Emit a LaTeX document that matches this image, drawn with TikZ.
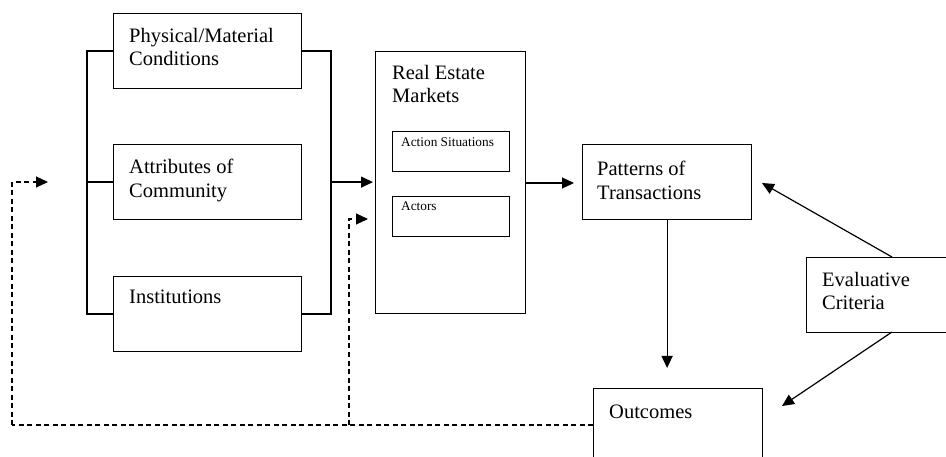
\documentclass[tikz,border=0pt]{standalone}
\usepackage{fontspec}
\setmainfont{Liberation Serif}
\usetikzlibrary{arrows.meta,calc}
\begin{document}
\begin{tikzpicture}[x=1pt,y=-1pt,
  box/.style={draw, line width=1.2pt, anchor=north west, inner sep=0pt},
  txt/.style={anchor=north west, inner sep=0pt, align=left, font=\fontsize{20.5}{23.5}\selectfont},
  stxt/.style={anchor=north west, inner sep=0pt, align=left, font=\fontsize{13.3}{15}\selectfont},
  conn/.style={line width=1.2pt},
  tip/.style={-{Triangle[length=12pt,width=11pt]}},
  arr/.style={line width=1.2pt, tip},
  dline/.style={line width=1.1pt, dash pattern=on 5pt off 3.5pt}]
\useasboundingbox (0,0) rectangle (946,457);
\clip (0,0) rectangle (946,457);
% boxes
\node[box, minimum width=188pt, minimum height=75pt] (phys) at (113,13) {};
\node[box, minimum width=188pt, minimum height=75pt] (attr) at (113,144) {};
\node[box, minimum width=188pt, minimum height=75pt] (inst) at (113,276) {};
\node[box, minimum width=150pt, minimum height=262pt] (rem) at (375,51) {};
\node[box, minimum width=117pt, minimum height=40pt, line width=0.9pt] (acts) at (392,131) {};
\node[box, minimum width=117pt, minimum height=40pt, line width=0.9pt] (actr) at (392,196) {};
\node[box, minimum width=169pt, minimum height=75pt] (pat) at (582,144) {};
\node[box, minimum width=160pt, minimum height=75pt] (eval) at (806,257) {};
\node[box, minimum width=169pt, minimum height=90pt] (out) at (593,388) {};
% texts
\node[txt] (tphys) at (129,28) {Physical/Material\\Conditions};
\node[txt] (tattr) at (129,159) {Attributes of\\Community};
\node[txt] (tinst) at (129,290) {Institutions};
\node[txt] (trem) at (392,65) {Real Estate\\Markets};
\node[stxt] (tacts) at (401,137) {Action Situations};
\node[stxt] (tactr) at (401,202) {Actors};
\node[txt] (tpat) at (597,161) {Patterns of\\Transactions};
\node[txt] (teval) at (822,272) {Evaluative\\Criteria};
\node[txt] (tout) at (609,405) {Outcomes};
% brackets
\coordinate (lb) at (87,0);
\coordinate (rb) at (331,0);
\draw[conn] (phys.west) -- (phys.west -| lb) |- (inst.west);
\draw[conn] (attr.west) -- (attr.west -| lb);
\draw[conn] (phys.east) -- (phys.east -| rb) |- (inst.east);
\draw[arr, shorten >=2pt] (attr.east -| rb) -- (rem.west |- attr.east);
% main flow
\draw[arr, shorten >=8pt] (rem.east |- 0,183) -- (pat.west |- 0,183);
\draw[arr, shorten >=20pt] (pat.south) -- (pat.south |- out.north);
\coordinate (eT) at (892,257);
\coordinate (eB) at (892,332);
\coordinate (pTip) at (762,183);
\coordinate (oTip) at (782,406);
\draw[arr] (eT) -- (pTip);
\draw[arr] (eB) -- (oTip);
% feedback
\coordinate (fbL) at (12,425);
\coordinate (fbTip) at (48,182);
\coordinate (fbM) at (349,425);
\coordinate (actTip) at (368,219);
\draw[dline] (out.west |- fbL) -- (fbL);
\draw[dline, tip] (fbL) |- (fbTip);
\draw[dline, tip] (fbM) |- (actTip);
\end{tikzpicture}
\end{document}
